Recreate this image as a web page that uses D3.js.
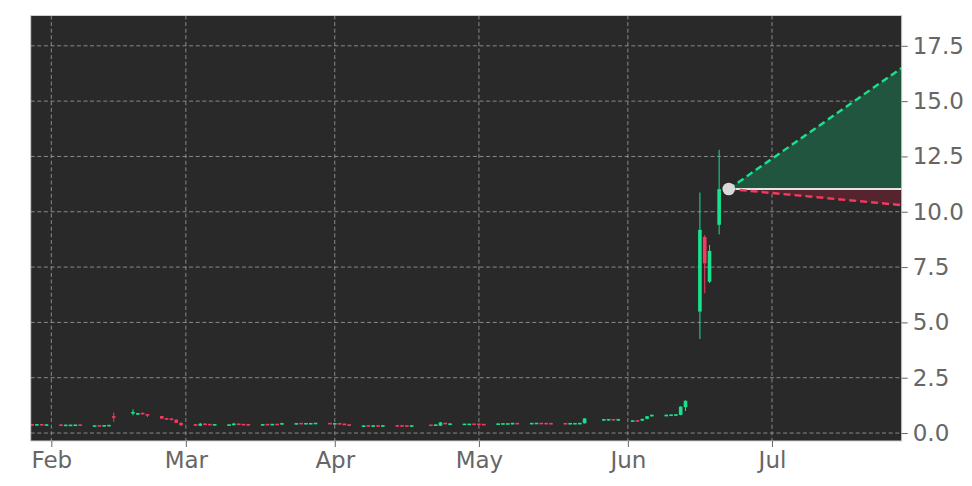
<!DOCTYPE html>
<html>
<head>
<meta charset="utf-8">
<script src="https://cdn.jsdelivr.net/npm/d3@7"></script>
<style>
  html, body { margin: 0; padding: 0; background: #ffffff; }
  svg { display: block; }
  text { font-family: "DejaVu Sans", sans-serif; }
</style>
</head>
<body>
<svg id="chart" width="972" height="486"></svg>
<script>
// ---- data ----
const dates = [
  "2025-01-28","2025-01-29","2025-01-30","2025-01-31",
  "2025-02-03","2025-02-04","2025-02-05","2025-02-06","2025-02-07",
  "2025-02-10","2025-02-11","2025-02-12","2025-02-13","2025-02-14",
  "2025-02-18","2025-02-19","2025-02-20","2025-02-21",
  "2025-02-24","2025-02-25","2025-02-26","2025-02-27","2025-02-28",
  "2025-03-03","2025-03-04","2025-03-05","2025-03-06","2025-03-07",
  "2025-03-10","2025-03-11","2025-03-12","2025-03-13","2025-03-14",
  "2025-03-17","2025-03-18","2025-03-19","2025-03-20","2025-03-21",
  "2025-03-24","2025-03-25","2025-03-26","2025-03-27","2025-03-28",
  "2025-03-31","2025-04-01","2025-04-02","2025-04-03","2025-04-04",
  "2025-04-07","2025-04-08","2025-04-09","2025-04-10","2025-04-11",
  "2025-04-14","2025-04-15","2025-04-16","2025-04-17",
  "2025-04-21","2025-04-22","2025-04-23","2025-04-24","2025-04-25",
  "2025-04-28","2025-04-29","2025-04-30","2025-05-01","2025-05-02",
  "2025-05-05","2025-05-06","2025-05-07","2025-05-08","2025-05-09",
  "2025-05-12","2025-05-13","2025-05-14","2025-05-15","2025-05-16",
  "2025-05-19","2025-05-20","2025-05-21","2025-05-22","2025-05-23",
  "2025-05-27","2025-05-28","2025-05-29","2025-05-30",
  "2025-06-02","2025-06-03","2025-06-04","2025-06-05","2025-06-06",
  "2025-06-09","2025-06-10","2025-06-11","2025-06-12","2025-06-13",
  "2025-06-16","2025-06-17","2025-06-18","2025-06-20"
];
const open = [
  0.38,0.36,0.39,0.35,
  0.37,0.33,0.33,0.34,0.37,
  0.31,0.33,0.31,0.32,0.74,
  0.88,0.85,0.90,0.84,
  0.77,0.66,0.64,0.60,0.46,
  0.38,0.33,0.41,0.39,0.36,
  0.35,0.36,0.41,0.39,0.38,
  0.36,0.39,0.37,0.39,0.38,
  0.40,0.44,0.41,0.41,0.42,
  0.44,0.41,0.43,0.41,0.38,
  0.30,0.33,0.30,0.35,0.30,
  0.33,0.33,0.33,0.31,
  0.36,0.34,0.33,0.45,0.39,
  0.38,0.38,0.41,0.42,0.39,
  0.39,0.40,0.40,0.40,0.44,
  0.41,0.42,0.44,0.44,0.43,
  0.43,0.41,0.41,0.41,0.44,
  0.58,0.59,0.62,0.59,
  0.53,0.57,0.56,0.64,0.76,
  0.78,0.79,0.80,0.82,1.17,
  5.49,8.86,6.84,9.41
];
const high = [
  0.40,0.39,0.40,0.38,
  0.38,0.37,0.37,0.37,0.38,
  0.33,0.34,0.35,0.36,0.92,
  1.07,0.90,0.92,0.86,
  0.78,0.68,0.66,0.62,0.48,
  0.40,0.46,0.43,0.40,0.39,
  0.38,0.46,0.42,0.40,0.39,
  0.39,0.40,0.40,0.40,0.46,
  0.44,0.45,0.44,0.44,0.45,
  0.45,0.44,0.44,0.42,0.39,
  0.33,0.34,0.34,0.36,0.35,
  0.34,0.34,0.34,0.35,
  0.37,0.38,0.50,0.46,0.43,
  0.41,0.41,0.42,0.43,0.40,
  0.42,0.43,0.43,0.46,0.45,
  0.45,0.45,0.45,0.45,0.44,
  0.44,0.44,0.44,0.45,0.67,
  0.62,0.62,0.63,0.64,
  0.56,0.58,0.65,0.77,0.83,
  0.84,0.83,0.84,1.22,1.47,
  10.87,8.95,8.50,12.80
];
const low = [
  0.35,0.35,0.35,0.34,
  0.33,0.32,0.32,0.33,0.33,
  0.30,0.30,0.30,0.31,0.51,
  0.80,0.82,0.84,0.72,
  0.64,0.60,0.58,0.45,0.33,
  0.33,0.31,0.37,0.36,0.35,
  0.34,0.35,0.37,0.36,0.35,
  0.35,0.36,0.36,0.37,0.37,
  0.39,0.40,0.40,0.40,0.41,
  0.40,0.40,0.39,0.36,0.33,
  0.29,0.30,0.29,0.28,0.29,
  0.30,0.30,0.29,0.29,
  0.33,0.33,0.32,0.40,0.38,
  0.37,0.37,0.37,0.36,0.36,
  0.38,0.39,0.39,0.39,0.40,
  0.40,0.41,0.41,0.40,0.40,
  0.40,0.40,0.40,0.40,0.43,
  0.56,0.57,0.56,0.55,
  0.52,0.51,0.55,0.62,0.74,
  0.76,0.77,0.78,0.80,1.00,
  4.25,6.32,6.78,8.98
];
const close = [
  0.36,0.38,0.36,0.37,
  0.34,0.36,0.36,0.36,0.34,
  0.32,0.31,0.34,0.35,0.71,
  0.95,0.88,0.86,0.80,
  0.65,0.62,0.60,0.46,0.35,
  0.35,0.42,0.38,0.37,0.38,
  0.37,0.42,0.38,0.37,0.36,
  0.38,0.37,0.39,0.38,0.45,
  0.43,0.41,0.43,0.43,0.44,
  0.41,0.42,0.40,0.37,0.34,
  0.32,0.31,0.33,0.29,0.34,
  0.31,0.31,0.30,0.32,
  0.34,0.37,0.48,0.41,0.41,
  0.40,0.40,0.38,0.37,0.37,
  0.41,0.42,0.42,0.45,0.41,
  0.44,0.44,0.42,0.41,0.41,
  0.41,0.43,0.43,0.44,0.66,
  0.61,0.61,0.58,0.60,
  0.55,0.52,0.64,0.76,0.82,
  0.80,0.82,0.83,1.19,1.46,
  9.18,7.67,8.23,11.02
];
// forecast cone
const forecastDates = ["2025-06-22", "2025-07-28"];
const forecastHigh = [11.03, 16.5];
const forecastLow  = [11.03, 10.3];
const forecastBase = [11.03, 11.03];
// axes
const xDomain = ["2025-01-27T17:00:00Z", "2025-07-28T00:00:00Z"];
const yDomain = [-0.36, 18.87];
const monthTicks = ["2025-02-01","2025-03-01","2025-04-01","2025-05-01","2025-06-01","2025-07-01"];
const monthLabels = ["Feb","Mar","Apr","May","Jun","Jul"];
const yTickValues = [0, 2.5, 5, 7.5, 10, 12.5, 15, 17.5];

// ---- drawing ----
const W = 972, H = 486;
const M = { left: 30.7, top: 15.5, right: 901.7, bottom: 441 };
const parse = s => new Date(s.length === 10 ? s + "T00:00:00Z" : s);

const svg = d3.select("#chart");
const x = d3.scaleUtc().domain(xDomain.map(parse)).range([M.left, M.right]);
const y = d3.scaleLinear().domain(yDomain).range([M.bottom, M.top]);

const GREEN = "#18e28e", RED = "#f5395f";

// plot background
svg.append("rect")
  .attr("x", M.left).attr("y", M.top)
  .attr("width", M.right - M.left).attr("height", M.bottom - M.top)
  .attr("fill", "#292929");

const clip = svg.append("clipPath").attr("id", "clip")
  .append("rect")
  .attr("x", M.left).attr("y", M.top)
  .attr("width", M.right - M.left).attr("height", M.bottom - M.top);

// grid
const grid = svg.append("g").attr("stroke", "#a8a8a8").attr("stroke-width", 0.9)
  .attr("stroke-dasharray", "4,2.6").attr("opacity", 0.85);
grid.selectAll("line.gx").data(monthTicks.map(parse)).join("line")
  .attr("x1", d => x(d)).attr("x2", d => x(d))
  .attr("y1", M.top).attr("y2", M.bottom);
grid.selectAll("line.gy").data(yTickValues).join("line")
  .attr("x1", M.left).attr("x2", M.right)
  .attr("y1", d => y(d)).attr("y2", d => y(d));

const plot = svg.append("g").attr("clip-path", "url(#clip)");

// forecast areas
const fc = forecastDates.map((d, i) => ({
  date: parse(d), hi: forecastHigh[i], lo: forecastLow[i], base: forecastBase[i]
}));
plot.append("path").datum(fc)
  .attr("d", d3.area().x(d => x(d.date)).y0(d => y(d.base)).y1(d => y(d.hi)))
  .attr("fill", "#22553f");
plot.append("path").datum(fc)
  .attr("d", d3.area().x(d => x(d.date)).y0(d => y(d.base)).y1(d => y(d.lo)))
  .attr("fill", "#55242f");

// candles
const candles = dates.map((d, i) => ({
  date: parse(d), o: open[i], h: high[i], l: low[i], c: close[i]
}));
const bw = 3.6;
const cg = plot.append("g");
cg.selectAll("line.wick").data(candles).join("line")
  .attr("x1", d => x(d.date)).attr("x2", d => x(d.date))
  .attr("y1", d => y(d.h)).attr("y2", d => y(d.l))
  .attr("stroke", d => d.c >= d.o ? GREEN : RED)
  .attr("stroke-width", 1);
cg.selectAll("rect.body").data(candles).join("rect")
  .attr("x", d => x(d.date) - bw / 2)
  .attr("width", bw)
  .attr("y", d => {
    const top = y(Math.max(d.o, d.c)), bot = y(Math.min(d.o, d.c));
    return bot - top < 1.6 ? (top + bot) / 2 - 0.8 : top;
  })
  .attr("height", d => Math.max(1.6, y(Math.min(d.o, d.c)) - y(Math.max(d.o, d.c))))
  .attr("fill", d => d.c >= d.o ? GREEN : RED);

// forecast lines
plot.append("path").datum(fc)
  .attr("d", d3.line().x(d => x(d.date)).y(d => y(d.base)))
  .attr("stroke", "#e4e4e4").attr("stroke-width", 2).attr("fill", "none");
plot.append("path").datum(fc)
  .attr("d", d3.line().x(d => x(d.date)).y(d => y(d.hi)))
  .attr("stroke", GREEN).attr("stroke-width", 2.4).attr("stroke-dasharray", "7,4").attr("fill", "none");
plot.append("path").datum(fc)
  .attr("d", d3.line().x(d => x(d.date)).y(d => y(d.lo)))
  .attr("stroke", RED).attr("stroke-width", 2.4).attr("stroke-dasharray", "7,4").attr("fill", "none");
plot.append("circle")
  .attr("cx", x(fc[0].date)).attr("cy", y(fc[0].base)).attr("r", 6.3)
  .attr("fill", "#d9d9d9");

// frame
svg.append("rect")
  .attr("x", M.left).attr("y", M.top)
  .attr("width", M.right - M.left).attr("height", M.bottom - M.top)
  .attr("fill", "none").attr("stroke", "#d0d0d0").attr("stroke-width", 1);

// axes
const xAxis = d3.axisBottom(x)
  .tickValues(monthTicks.map(parse))
  .tickFormat((d, i) => monthLabels[i])
  .tickSize(6).tickPadding(5);
const gx = svg.append("g").attr("transform", `translate(0,${M.bottom})`).call(xAxis);
gx.select(".domain").remove();
gx.selectAll(".tick line").attr("stroke", "#666");
gx.selectAll(".tick text").attr("fill", "#666").attr("font-size", 23)
  .attr("font-family", "DejaVu Sans, sans-serif");

const yAxis = d3.axisRight(y)
  .tickValues(yTickValues)
  .tickFormat(d3.format(".1f"))
  .tickSize(6).tickPadding(5);
const gy = svg.append("g").attr("transform", `translate(${M.right},0)`).call(yAxis);
gy.select(".domain").remove();
gy.selectAll(".tick line").attr("stroke", "#666");
gy.selectAll(".tick text").attr("fill", "#666").attr("font-size", 23)
  .attr("font-family", "DejaVu Sans, sans-serif");
</script>
</body>
</html>
